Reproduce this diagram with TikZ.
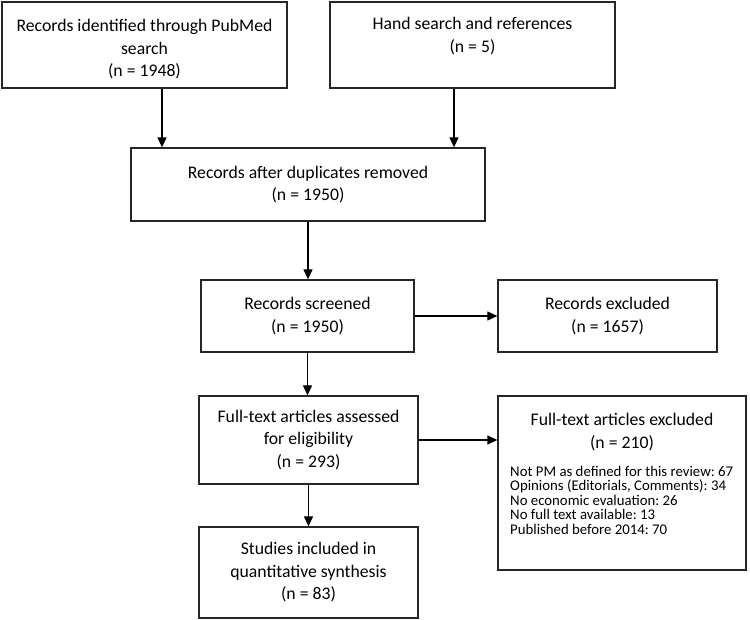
\documentclass[tikz,border=0pt]{standalone}
\usepackage{fontspec}
\setmainfont{Carlito}
\usetikzlibrary{arrows.meta}
\begin{document}
\frenchspacing
\begin{tikzpicture}[x=1pt,y=-1pt,
  box/.style={draw=black!85,line width=1.3pt,rectangle,inner sep=0pt,align=center,
    font=\fontsize{17.7}{22.5}\selectfont},
  txt/.style={inner sep=0pt,align=center,font=\fontsize{17.7}{22.5}\selectfont},
  listtxt/.style={inner sep=0pt,align=left,font=\fontsize{14.8}{14.5}\selectfont},
  arr/.style={line width=1.2pt,-{Triangle[length=10pt,width=9pt]}}]
\useasboundingbox (0,0) rectangle (750,620);
\node[box,minimum width=285pt,minimum height=86pt] (pub) at (144.5,45)
  {\rule{0pt}{21pt}Records identified through PubMed\\search\\(n = 1948)};
\node[box,minimum width=285pt,minimum height=86pt] (hand) at (472.5,45)
  {\rule{0pt}{21pt}Hand search and references\\(n = 5)\\\strut};
\node[box,minimum width=354pt,minimum height=73pt] (dup) at (308,184.5)
  {Records after duplicates removed\\(n = 1950)};
\node[box,minimum width=213pt,minimum height=72pt] (scr) at (307.5,316)
  {Records screened\\(n = 1950)};
\node[box,minimum width=219pt,minimum height=72pt] (rex) at (607.5,316)
  {Records excluded\\(n = 1657)};
\node[box,minimum width=219pt,minimum height=88pt] (ft) at (308.5,440)
  {Full-text articles assessed\\for eligibility\\(n = 293)};
\node[box,minimum width=248pt,minimum height=174pt] (fex) at (622,483) {};
\node[txt] (fexhead) at (622,432) {Full-text articles excluded\\(n = 210)};
\node[listtxt,anchor=west] (fexlist) at (510,500)
  {Not PM as defined for this review: 67\\
   Opinions (Editorials, Comments): 34\\
   No economic evaluation: 26\\
   No full text available: 13\\
   Published before 2014: 70};
\node[box,minimum width=219pt,minimum height=91pt] (inc) at (308.5,572.5)
  {Studies included in\\quantitative synthesis\\(n = 83)};
\draw[arr] ([xshift=17.5pt]pub.south) -- ([xshift=17.5pt]pub.south |- dup.north);
\draw[arr] ([xshift=-18.5pt]hand.south) -- ([xshift=-18.5pt]hand.south |- dup.north);
\draw[arr] (dup.south) -- (dup.south |- scr.north);
\draw[arr] (scr.east) -- (rex.west);
\draw[arr] (scr.south) -- (scr.south |- ft.north);
\draw[arr] (ft.east) -- (ft.east -| fex.west);
\draw[arr] (ft.south) -- (inc.north);
\end{tikzpicture}
\end{document}
